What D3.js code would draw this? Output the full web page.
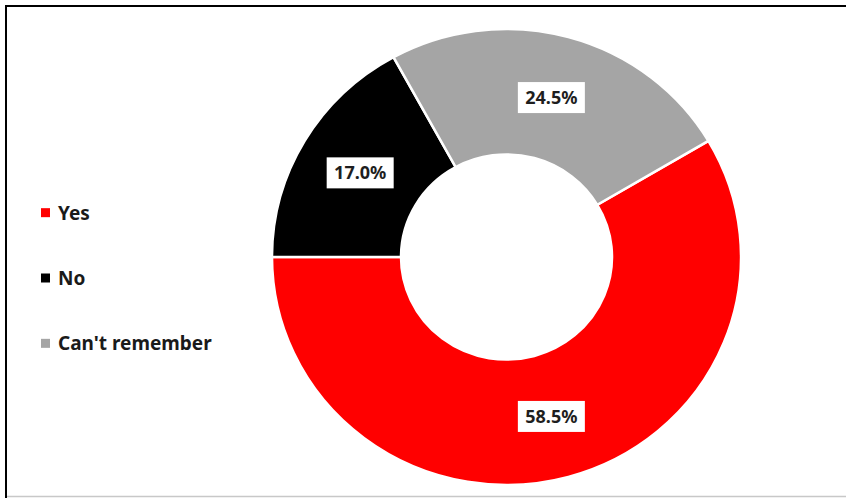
<!DOCTYPE html>
<html>
<head>
<meta charset="utf-8">
<script src="https://cdn.jsdelivr.net/npm/d3@7"></script>
<style>
  html, body { margin: 0; padding: 0; background: #fff; }
  svg { display: block; }
  text { font-family: "Noto Sans", "Open Sans", sans-serif; font-weight: bold; }
</style>
</head>
<body>
<svg id="chart" width="846" height="498"></svg>
<script>
// Survey answers and their shares (percent)
const categories = ["Yes", "No", "Can't remember"];
const values = [58.5, 17.0, 24.5];
const colors = ["#ff0000", "#000000", "#a5a5a5"];

const W = 846, H = 498;
const svg = d3.select("#chart");

// Frame: dark top and left edges, light bottom edge
svg.append("line").attr("x1", 6).attr("x2", W).attr("y1", 6).attr("y2", 6)
  .attr("stroke", "#000").attr("stroke-width", 2);
svg.append("line").attr("x1", 6).attr("x2", 6).attr("y1", 5).attr("y2", H)
  .attr("stroke", "#000").attr("stroke-width", 2);
svg.append("line").attr("x1", 7).attr("x2", W).attr("y1", 496.5).attr("y2", 496.5)
  .attr("stroke", "#c8c8c8").attr("stroke-width", 1.5);

// Doughnut
const cx = 506.5, cy = 257, rOuter = 234.5, rInner = 105.5, yScale = 228 / 234.5;
const firstAngle = 59.4 * Math.PI / 180;

const pie = d3.pie().sort(null).value(d => d)
  .startAngle(firstAngle).endAngle(firstAngle + 2 * Math.PI);
const arcs = pie(values);
const arc = d3.arc().innerRadius(rInner).outerRadius(rOuter);

const ring = svg.append("g")
  .attr("transform", `translate(${cx},${cy}) scale(1,${yScale})`);
ring.selectAll("path").data(arcs).join("path")
  .attr("d", arc)
  .attr("fill", (d, i) => colors[i])
  .attr("stroke", "#fff")
  .attr("stroke-width", 2.5)
  .attr("vector-effect", "non-scaling-stroke");

// Value labels in white boxes at each slice centroid
const labels = svg.append("g");
arcs.forEach((d, i) => {
  const [x, y] = arc.centroid(d);
  const px = cx + x, py = cy + y * yScale;
  const g = labels.append("g").attr("transform", `translate(${px},${py})`);
  g.append("rect")
    .attr("x", -33.5).attr("y", -15.5)
    .attr("width", 67).attr("height", 31)
    .attr("fill", "#fff");
  g.append("text")
    .attr("text-anchor", "middle")
    .attr("dy", "0.36em")
    .attr("font-size", 18)
    .attr("fill", "#1e1e1e")
    .text(values[i].toFixed(1) + "%");
});

// Legend
const legendY = d3.scaleBand().domain(categories).range([180, 376]);
const legend = svg.append("g");
categories.forEach((c, i) => {
  const y = legendY(c) + legendY.bandwidth() / 2;
  legend.append("rect")
    .attr("x", 41).attr("y", y - 4.5)
    .attr("width", 9).attr("height", 9)
    .attr("fill", colors[i]);
  legend.append("text")
    .attr("x", 58).attr("y", y)
    .attr("dy", "0.36em")
    .attr("font-size", 19)
    .attr("fill", "#1a1a1a")
    .text(c);
});
</script>
</body>
</html>
